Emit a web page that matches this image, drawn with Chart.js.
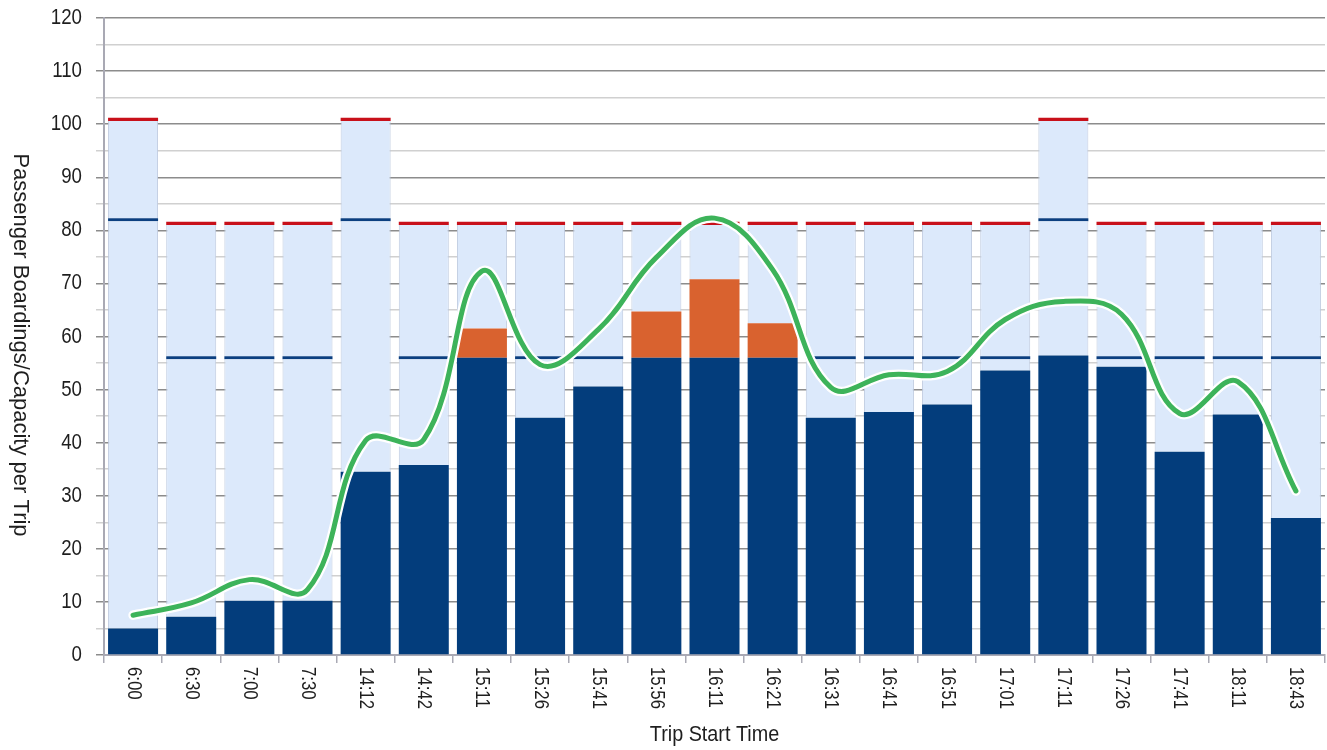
<!DOCTYPE html>
<html>
<head>
<meta charset="utf-8">
<script src="https://cdn.jsdelivr.net/npm/chart.js@4"></script>
<style>
  html, body { margin: 0; padding: 0; background: #fff; }
  #wrap { width: 1327px; height: 750px; }
</style>
</head>
<body>
<div id="wrap"><canvas id="yolcuChart" width="1327" height="750"></canvas></div>
<script>
// trip data
var seferSaatleri = ["6:00","6:30","7:00","7:30","14:12","14:42","15:11","15:26","15:41","15:56","16:11","16:21","16:31","16:41","16:51","17:01","17:11","17:26","17:41","18:11","18:43"];
var binisler   = [5, 7.2, 10.2, 10.2, 34.5, 35.8, 61.5, 44.7, 50.6, 64.7, 70.8, 62.5, 44.7, 45.8, 47.2, 53.6, 56.4, 54.3, 38.3, 45.3, 25.8];
var oturmaKap  = [82, 56, 56, 56, 82, 56, 56, 56, 56, 56, 56, 56, 56, 56, 56, 56, 82, 56, 56, 56, 56];
var toplamKap  = [100.6, 81, 81, 81, 100.6, 81, 81, 81, 81, 81, 81, 81, 81, 81, 81, 81, 100.6, 81, 81, 81, 81];
var yukEgrisi  = [7.5, 9.8, 14.2, 12.3, 40.4, 40.6, 72.3, 54.7, 61.3, 74.9, 82.3, 72.6, 50.4, 52.8, 53.4, 63.2, 66.6, 64.2, 45.5, 51.5, 30.9];
var yEksenAdimi = 5;
var yEtiketAdimi = 10;

var cizgiKalinlik = 0.55; // seated line, in data units
var kapCizgi = 0.6;       // capacity (red) line

var lacivert = [], turuncu = [], acikAlt = [], oturmaCizgi = [], acikUst = [], kirmizi = [];
for (var i = 0; i < seferSaatleri.length; i++) {
  var b = binisler[i], s = oturmaKap[i], c = toplamKap[i];
  lacivert.push(Math.min(b, s));
  turuncu.push(Math.max(0, b - s));
  var altaKadar = s - cizgiKalinlik / 2;
  acikAlt.push(Math.max(0, altaKadar - b));
  oturmaCizgi.push(b < altaKadar ? cizgiKalinlik : 0);
  acikUst.push(c - Math.max(b, s + cizgiKalinlik / 2));
  kirmizi.push(kapCizgi);
}

var yaziTipi = "'Liberation Sans', Arial, sans-serif";

/* narrow looking text: squeeze along the reading direction */
function darYazi(ctx, metin, x, y, aci, hiza, boyut, sikistir) {
  ctx.save();
  ctx.translate(x, y);
  ctx.rotate(aci);
  ctx.scale(sikistir, 1);
  ctx.font = boyut + 'px ' + yaziTipi;
  ctx.textAlign = hiza;
  ctx.textBaseline = 'middle';
  ctx.fillText(metin, 0, 0);
  ctx.restore();
}

var etiketCizici = {
  id: 'etiketCizici',
  afterDraw: function (chart) {
    var ctx = chart.ctx;
    var x = chart.scales.x;
    var y = chart.scales.y;
    var alan = chart.chartArea;
    ctx.save();
    ctx.fillStyle = '#1e1e1e';
    for (var i = 0; i < seferSaatleri.length; i++) {
      darYazi(ctx, seferSaatleri[i], x.getPixelForTick(i), alan.bottom + 12, Math.PI / 2, 'left', 20, 0.84);
    }
    for (var v = 0; v <= 120; v += yEtiketAdimi) {
      darYazi(ctx, String(v), 82, y.getPixelForValue(v), 0, 'right', 22, 0.85);
    }
    darYazi(ctx, 'Trip Start Time', (alan.left + alan.right) / 2, 735, 0, 'center', 22, 0.9);
    darYazi(ctx, 'Passenger Boardings/Capacity per Trip', 20, 345, Math.PI / 2, 'center', 22, 1.0);
    ctx.restore();
  }
};

var barOrtak = { barPercentage: 0.86, categoryPercentage: 1, order: 2, borderWidth: 0 };
var acikKenar = { borderColor: '#bfcbe0', borderWidth: { left: 1, right: 1, top: 0, bottom: 0 }, borderSkipped: false };

var ctx = document.getElementById("yolcuChart");
var myChart = new Chart(ctx, {
  type: 'bar',
  data: {
    labels: seferSaatleri,
    datasets: [
      Object.assign({ label: 'Boardings', data: lacivert, backgroundColor: '#033d7c', stack: 'bar' }, barOrtak),
      Object.assign({ label: 'Over seated', data: turuncu, backgroundColor: '#d9622f', stack: 'bar' }, barOrtak),
      Object.assign({ label: 'Cap A', data: acikAlt, backgroundColor: '#dce9fb', stack: 'bar' }, barOrtak, acikKenar),
      Object.assign({ label: 'Seated', data: oturmaCizgi, backgroundColor: '#0b3f80', stack: 'bar' }, barOrtak),
      Object.assign({ label: 'Cap B', data: acikUst, backgroundColor: '#dce9fb', stack: 'bar' }, barOrtak, acikKenar),
      Object.assign({ label: 'Capacity', data: kirmizi, backgroundColor: '#c8101a', stack: 'bar' }, barOrtak),
      {
        type: 'line', label: 'outline', data: yukEgrisi, stack: 'w', order: 1,
        borderColor: '#ffffff', borderWidth: 9.5, pointRadius: 0, tension: 0.4, fill: false,
        borderCapStyle: 'round'
      },
      {
        type: 'line', label: 'Load', data: yukEgrisi, stack: 'g', order: 0,
        borderColor: '#3db35a', borderWidth: 5, pointRadius: 0, tension: 0.4, fill: false,
        borderCapStyle: 'round'
      }
    ]
  },
  options: {
    responsive: false,
    animation: false,
    layout: { padding: { top: 18, right: 2, left: 0, bottom: 0 } },
    plugins: { legend: { display: false }, tooltip: { enabled: false } },
    scales: {
      x: {
        stacked: true,
        offset: true,
        afterFit: function (s) { s.height = 95; },
        ticks: { display: false },
        grid: { offset: true, drawOnChartArea: false, drawTicks: true, tickLength: 8, color: '#a9a9b4', lineWidth: 1.5 },
        border: { color: '#a9a9b4', width: 2 }
      },
      y: {
        stacked: true,
        min: 0,
        max: 120,
        afterFit: function (s) { s.width = 104; },
        ticks: { stepSize: yEksenAdimi, display: false },
        grid: {
          tickLength: 8,
          color: function (c) { return c.tick && c.tick.value % 10 === 0 ? '#8c8c8c' : '#d0d0d0'; },
          lineWidth: 1.5
        },
        border: { color: '#a9a9b4', width: 2 }
      }
    }
  },
  plugins: [etiketCizici]
});
</script>
</body>
</html>
